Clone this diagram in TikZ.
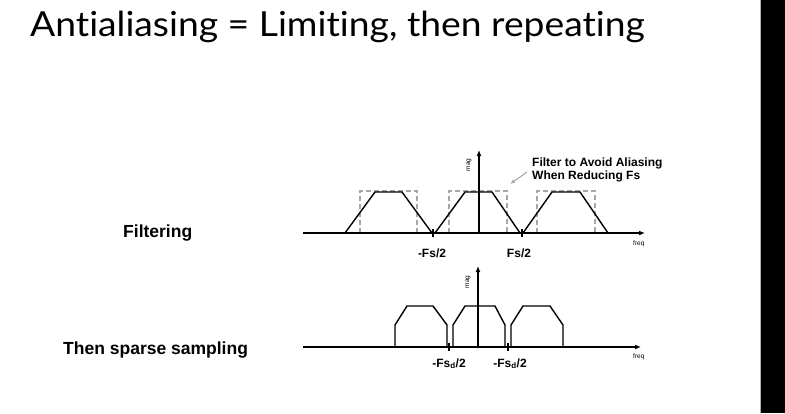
\documentclass[tikz,border=0pt]{standalone}
\usepackage{fontspec}
\setmainfont{Liberation Sans}
\newfontfamily\titlefont[Ligatures=NoCommon,FakeStretch=1.08]{Lato}
\usetikzlibrary{arrows.meta,positioning}

\begin{document}
\begin{tikzpicture}[
  x=1pt,y=-1pt,
  >=Latex,
  axisline/.style={line width=1.4pt,->,>={Latex[length=6pt,width=5pt]}},
  band/.style={line width=1.4pt,line join=miter},
  window/.style={line width=1.3pt,gray!70,dash pattern=on 5pt off 3pt},
  tick/.style={line width=1.4pt},
  lbl/.style={font=\bfseries\fontsize{12}{12.5}\selectfont,inner sep=0pt},
  tiny/.style={font=\fontsize{6.5}{7}\selectfont,inner sep=0pt},
  rowlbl/.style={font=\bfseries\fontsize{17.5}{20}\selectfont,inner sep=0pt,anchor=base west}
]
  \useasboundingbox (0,0) rectangle (785,413);
  \fill[black] (760,0) rectangle (785,413);
  \draw[gray!60,line width=0.8pt] (760,0) -- (760,413);

  \node[anchor=base west,inner sep=0pt] (title) at (30,36)
    {\titlefont\fontsize{34.5}{40}\selectfont Antialiasing = Limiting, then repeating};

  % filtering row
  \node[rowlbl] (filt) at (123,237) {Filtering};
  \coordinate (o1) at (479,233);
  \coordinate (x1s) at (303,233);
  \coordinate (x1e) at (645,233);
  \coordinate (y1e) at (479,150);
  \draw[window] (360,233) -- (360,191) -- (417,191) -- (417,233);
  \draw[window] (449,233) -- (449,191) -- (507,191) -- (507,233);
  \draw[window] (537,233) -- (537,191) -- (595,191) -- (595,233);
  \draw[band] (345,233) -- (375,192) -- (402,192) -- (432,233);
  \draw[band] (435,233) -- (465,192) -- (492,192) -- (520,233);
  \draw[band] (523,233) -- (552,192) -- (580,192) -- (608,233);
  \draw[axisline] (x1s) -- (x1e);
  \draw[axisline] (o1) -- (y1e);
  \coordinate (t1a) at (433,233);
  \coordinate (t1b) at (522,233);
  \draw[tick] ([yshift=-4pt]t1a) -- ([yshift=4pt]t1a);
  \draw[tick] ([yshift=-4pt]t1b) -- ([yshift=4pt]t1b);
  \node[lbl,anchor=base] (nfs1) at (432,257) {-Fs/2};
  \node[lbl,anchor=base] (fs1) at (519,257) {Fs/2};
  \node[tiny,rotate=90] (mag1) at (469,165) {mag};
  \node[tiny,anchor=base west] (freq1) at (633,245) {freq};
  \node[lbl,anchor=base west,align=left] (note) at (532,179)
    {Filter to Avoid Aliasing\\When Reducing Fs};
  \draw[gray!70,line width=1pt,->,>={Latex[length=5pt,width=4pt]}]
    (527,172) -- (510,184);

  % sparse sampling row
  \node[rowlbl] (samp) at (63,354) {Then sparse sampling};
  \coordinate (o2) at (478,347);
  \coordinate (x2s) at (303,347);
  \coordinate (x2e) at (641,347);
  \coordinate (y2e) at (478,266);
  \draw[band] (395,347) -- (395,325) -- (407,306) -- (433,306) -- (447,325) -- (447,347);
  \draw[band] (453,347) -- (453,325) -- (465,306) -- (495,306) -- (505,325) -- (505,347);
  \draw[band] (511,347) -- (511,325) -- (523,306) -- (550,306) -- (563,325) -- (563,347);
  \draw[axisline] (x2s) -- (x2e);
  \draw[axisline] (o2) -- (y2e);
  \coordinate (t2a) at (449,347);
  \coordinate (t2b) at (508,347);
  \draw[tick] ([yshift=-4pt]t2a) -- ([yshift=4pt]t2a);
  \draw[tick] ([yshift=-4pt]t2b) -- ([yshift=4pt]t2b);
  \node[lbl,anchor=base] (nfs2) at (449,367) {-Fs$_{\mathbf{d}}$/2};
  \node[lbl,anchor=base] (fs2) at (510,367) {-Fs$_{\mathbf{d}}$/2};
  \node[tiny,rotate=90] (mag2) at (468,282) {mag};
  \node[tiny,anchor=base west] (freq2) at (633,358) {freq};
\end{tikzpicture}
\end{document}
